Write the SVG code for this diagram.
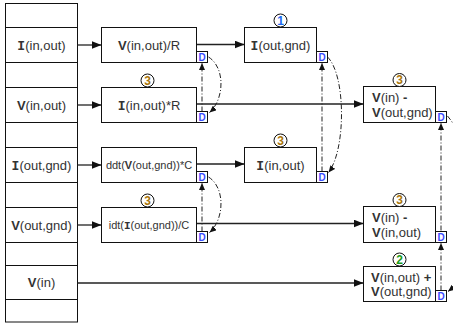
<svg xmlns="http://www.w3.org/2000/svg" width="453" height="326" viewBox="0 0 453 326">
<style>
.bx{fill:#fff;stroke:#111;stroke-width:1}
.d{fill:#fff;stroke:#111;stroke-width:1}
.dt{font-family:"Liberation Sans",Arial,sans-serif;font-size:10px;font-weight:bold;fill:#3a4bff;text-anchor:middle}
.t{font-family:"Liberation Sans",Arial,sans-serif;font-size:13px;fill:#333}
.c{text-anchor:middle}
.s{font-size:11px}
.b{font-weight:bold}
.m{font-family:"Liberation Mono","Courier New",monospace;font-weight:bold}
.ci{fill:#fff;stroke:#111;stroke-width:1}
.n{font-family:"Liberation Sans",Arial,sans-serif;font-size:12px;font-weight:bold;text-anchor:middle}
.ln{fill:none;stroke:#222;stroke-width:1.3}
.dd{fill:none;stroke:#222;stroke-width:1;stroke-dasharray:5,2,1,2}
</style>
<defs>
<marker id="ah" markerUnits="userSpaceOnUse" markerWidth="10" markerHeight="8" refX="10" refY="4" orient="auto"><path d="M0,0 L10,4 L0,8 z" fill="#111"/></marker>
<marker id="ad" markerUnits="userSpaceOnUse" markerWidth="7" markerHeight="6" refX="7" refY="3" orient="auto"><path d="M0,0 L7,3 L0,6 z" fill="#111"/></marker>
</defs>

<g id="signals">
<rect class="bx" x="5.5" y="3.5" width="72" height="318.5"/>
<path d="M5.5,27.5H77.5M5.5,62.5H77.5M5.5,87.5H77.5M5.5,122.5H77.5M5.5,147.5H77.5M5.5,182.5H77.5M5.5,207.5H77.5M5.5,242.5H77.5M5.5,265.5H77.5M5.5,299.5H77.5" stroke="#111" stroke-width="1" fill="none"/>
<text class="t c" x="41.5" y="49.5"><tspan class="m">I</tspan>(in,out)</text>
<text class="t c" x="41.5" y="109.5"><tspan class="b">V</tspan>(in,out)</text>
<text class="t c" x="41.5" y="169.5"><tspan class="m">I</tspan>(out,gnd)</text>
<text class="t c" x="41.5" y="229.5"><tspan class="b">V</tspan>(out,gnd)</text>
<text class="t c" x="41.5" y="287"><tspan class="b">V</tspan>(in)</text>
</g>

<g id="connectors">
<line class="ln" x1="77.5" y1="45" x2="101.5" y2="45" marker-end="url(#ah)"/>
<line class="ln" x1="77.5" y1="105" x2="101.5" y2="105" marker-end="url(#ah)"/>
<line class="ln" x1="77.5" y1="165" x2="101.5" y2="165" marker-end="url(#ah)"/>
<line class="ln" x1="77.5" y1="225" x2="101.5" y2="225" marker-end="url(#ah)"/>
<line class="ln" x1="77.5" y1="283" x2="363.5" y2="283" marker-end="url(#ah)"/>
<line class="ln" x1="196.5" y1="44.5" x2="244.5" y2="44.5" marker-end="url(#ah)"/>
<line class="ln" x1="196.5" y1="104" x2="363.5" y2="104" marker-end="url(#ah)"/>
<line class="ln" x1="196.5" y1="164" x2="244.5" y2="164" marker-end="url(#ah)"/>
<line class="ln" x1="196.5" y1="223.5" x2="363.5" y2="223.5" marker-end="url(#ah)"/>
<line class="dd" x1="202" y1="111.5" x2="202" y2="63" marker-end="url(#ad)"/>
<path class="dd" d="M208.5,57 C226,68 224,100 209.5,112.5" marker-end="url(#ad)"/>
<line class="dd" x1="202" y1="231.5" x2="202" y2="183" marker-end="url(#ad)"/>
<path class="dd" d="M208.5,177 C226,188 224,220 209.5,232.5" marker-end="url(#ad)"/>
<line class="dd" x1="322" y1="171.5" x2="322" y2="63" marker-end="url(#ad)"/>
<path class="dd" d="M327.5,57 C346,75 346,150 328.5,172.5" marker-end="url(#ad)"/>
<line class="dd" x1="441" y1="230.5" x2="441" y2="123" marker-end="url(#ad)"/>
<line class="dd" x1="441" y1="290.5" x2="441" y2="243" marker-end="url(#ad)"/>
<path class="dd" d="M447.5,116 C478,150 478,268 448,291.5" marker-end="url(#ad)"/>
</g>

<g id="n-v-div-r">
<rect class="bx" x="101.5" y="27.5" width="95" height="35"/>
<text class="t c" x="149" y="49.5"><tspan class="b">V</tspan>(in,out)/R</text>
<rect class="d" x="196.5" y="51.5" width="11" height="11"/><text class="dt" x="202" y="61">D</text>
</g>
<g id="n-i-mul-r">
<rect class="bx" x="101.5" y="87.5" width="95" height="35"/>
<text class="t c" x="149" y="109.5"><tspan class="m">I</tspan>(in,out)*R</text>
<rect class="d" x="196.5" y="111.5" width="11" height="11"/><text class="dt" x="202" y="121">D</text>
<circle class="ci" cx="147.5" cy="80.5" r="6.5"/><text class="n" x="147.5" y="84.8" fill="#a8740a">3</text>
</g>
<g id="n-ddt">
<rect class="bx" x="101.5" y="147.5" width="95" height="35"/>
<text class="t c s" x="149" y="168.5">ddt(<tspan class="b">V</tspan>(out,gnd))*C</text>
<rect class="d" x="196.5" y="171.5" width="11" height="11"/><text class="dt" x="202" y="181">D</text>
</g>
<g id="n-idt">
<rect class="bx" x="101.5" y="207.5" width="95" height="35"/>
<text class="t c s" x="149" y="228.5">idt(<tspan class="m">I</tspan>(out,gnd))/C</text>
<rect class="d" x="196.5" y="231.5" width="11" height="11"/><text class="dt" x="202" y="241">D</text>
<circle class="ci" cx="147.5" cy="200.5" r="6.5"/><text class="n" x="147.5" y="204.8" fill="#a8740a">3</text>
</g>

<g id="n-i-out-gnd">
<rect class="bx" x="244.5" y="27.5" width="72" height="35"/>
<text class="t c" x="280.5" y="49.5"><tspan class="m">I</tspan>(out,gnd)</text>
<rect class="d" x="316.5" y="51.5" width="11" height="11"/><text class="dt" x="322" y="61">D</text>
<circle class="ci" cx="280.5" cy="20.5" r="6.5"/><text class="n" x="280.5" y="24.8" fill="#1a6af0">1</text>
</g>
<g id="n-i-in-out">
<rect class="bx" x="244.5" y="147.5" width="72" height="35"/>
<text class="t c" x="280.5" y="169.5"><tspan class="m">I</tspan>(in,out)</text>
<rect class="d" x="316.5" y="171.5" width="11" height="11"/><text class="dt" x="322" y="181">D</text>
<circle class="ci" cx="280.5" cy="140.5" r="6.5"/><text class="n" x="280.5" y="144.8" fill="#a8740a">3</text>
</g>

<g id="n-vin-minus-voutgnd">
<rect class="bx" x="363.5" y="86.5" width="72" height="36"/>
<text class="t" x="372" y="101.5"><tspan class="b">V</tspan>(in)<tspan class="b"> -</tspan></text>
<text class="t" x="372" y="116.5"><tspan class="b">V</tspan>(out,gnd)</text>
<rect class="d" x="435.5" y="111.5" width="11" height="11"/><text class="dt" x="441" y="121">D</text>
<circle class="ci" cx="399.5" cy="80" r="6.5"/><text class="n" x="399.5" y="84.3" fill="#a8740a">3</text>
</g>
<g id="n-vin-minus-vinout">
<rect class="bx" x="363.5" y="206.5" width="72" height="36"/>
<text class="t" x="372" y="221.5"><tspan class="b">V</tspan>(in)<tspan class="b"> -</tspan></text>
<text class="t" x="372" y="236.5"><tspan class="b">V</tspan>(in,out)</text>
<rect class="d" x="435.5" y="231.5" width="11" height="11"/><text class="dt" x="441" y="241">D</text>
<circle class="ci" cx="399.5" cy="200" r="6.5"/><text class="n" x="399.5" y="204.3" fill="#a8740a">3</text>
</g>
<g id="n-vinout-plus-voutgnd">
<rect class="bx" x="363.5" y="266.5" width="72" height="35"/>
<text class="t" x="371" y="281.5"><tspan class="b">V</tspan>(in,out)<tspan class="b"> +</tspan></text>
<text class="t" x="371" y="295.5"><tspan class="b">V</tspan>(out,gnd)</text>
<rect class="d" x="435.5" y="290.5" width="11" height="11"/><text class="dt" x="441" y="300">D</text>
<circle class="ci" cx="399.5" cy="259.5" r="6.5"/><text class="n" x="399.5" y="263.8" fill="#1a9a1a">2</text>
</g>
</svg>
